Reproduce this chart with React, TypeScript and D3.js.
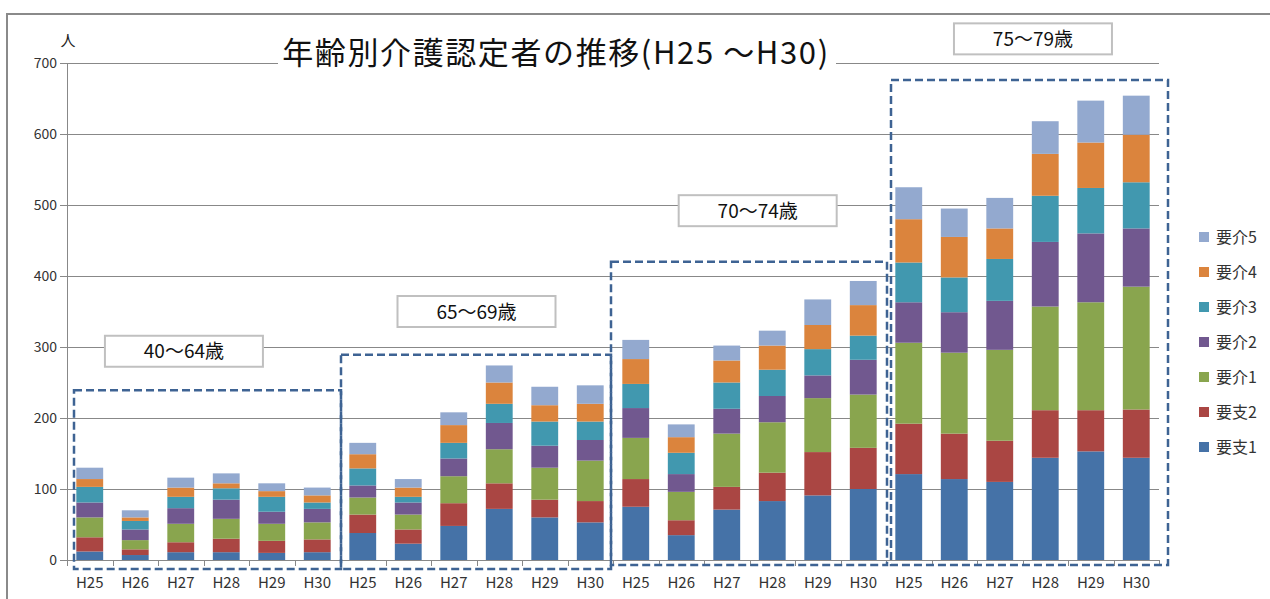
import React from "react";
import * as d3 from "d3";

const years = ["H25", "H26", "H27", "H28", "H29", "H30"];
const ageGroups = ["40～64歳", "65～69歳", "70～74歳", "75～79歳"];
const seriesNames = ["要支1", "要支2", "要介1", "要介2", "要介3", "要介4", "要介5"];
const yTicks = [0, 100, 200, 300, 400, 500, 600, 700];

// values per series, 24 bars (4 age groups x 6 years)
const youshi1 = [12, 7, 11, 11, 10, 11, 38, 23, 48, 72, 60, 53, 75, 35, 71, 83, 91, 100, 121, 114, 110, 144, 153, 144];
const youshi2 = [20, 8, 14, 19, 17, 18, 26, 20, 32, 36, 25, 30, 39, 21, 32, 40, 61, 58, 71, 64, 58, 67, 58, 68];
const youkai1 = [28, 13, 26, 28, 24, 24, 24, 21, 38, 48, 45, 57, 58, 40, 75, 71, 76, 75, 114, 114, 128, 146, 152, 173];
const youkai2 = [21, 15, 22, 27, 17, 19, 17, 17, 25, 37, 31, 29, 42, 25, 35, 37, 32, 49, 57, 57, 69, 91, 97, 82];
const youkai3 = [22, 12, 16, 16, 21, 9, 24, 8, 22, 27, 34, 26, 34, 30, 37, 37, 37, 34, 56, 49, 59, 65, 64, 65];
const youkai4 = [11, 5, 13, 7, 8, 10, 20, 13, 25, 30, 23, 25, 35, 22, 31, 34, 34, 43, 61, 57, 43, 59, 64, 67];
const youkai5 = [16, 10, 14, 14, 11, 11, 16, 12, 18, 24, 26, 26, 27, 18, 21, 21, 36, 34, 45, 40, 43, 46, 59, 55];

const seriesValues = [youshi1, youshi2, youkai1, youkai2, youkai3, youkai4, youkai5];
const colors = ["#4572A7", "#AA4643", "#89A54E", "#71588F", "#4198AF", "#DB843D", "#93A9CF"];

// annotation layout (value level of dashed frame top, label box center in band units / value)
const frameTopValue = [239, 289, 420, 676];
const frameInsetL = [7, 1, -2, 5];
const frameInsetR = [1, -2, 1, 9];
const labelCenterBand = [2.57, 9.0, 15.18, 21.23];
const labelCenterValue = [294, 350, 492, 734];

const FONT = "'Noto Sans CJK JP', 'Noto Sans', sans-serif";

export default function App() {
  const W = 1270, H = 599;
  const left = 67, right = 1159, top = 63, bottom = 560;

  const keys = ageGroups.flatMap((g, gi) => years.map((y, yi) => `${gi}-${yi}`));
  const x = d3.scaleBand<string>().domain(keys).range([left, right]).paddingInner(0.41).paddingOuter(0.205);
  const y = d3.scaleLinear().domain([0, 700]).range([bottom, top]);
  const step = x.step();

  const rows = keys.map((k, i) => {
    const r: any = { key: k };
    seriesNames.forEach((s, si) => (r[s] = seriesValues[si][i]));
    return r;
  });
  const stacked = d3.stack<any>().keys(seriesNames)(rows);

  return (
    <svg width={W} height={H} style={{ position: "absolute", left: 0, top: 0, background: "#fff" }} fontFamily={FONT}>
      <rect x={0} y={0} width={W} height={H} fill="#fff" />
      {/* outer frame */}
      <line x1={6} x2={W} y1={14} y2={14} stroke="#8a8a8a" strokeWidth={2} />
      <line x1={7} x2={7} y1={14} y2={H} stroke="#8a8a8a" strokeWidth={2} />

      {/* gridlines */}
      {yTicks.map((t) => (
        <g key={t}>
          <line x1={left - 7} x2={right} y1={Math.round(y(t)) + 0.5} y2={Math.round(y(t)) + 0.5} stroke="#888" strokeWidth={1} />
          <text x={57} y={y(t) + 5} textAnchor="end" fontSize={14} fill="#333">{t}</text>
        </g>
      ))}
      <line x1={left + 0.5} x2={left + 0.5} y1={top} y2={bottom} stroke="#888" />
      <text x={68} y={46} textAnchor="middle" fontSize={15} fill="#222">人</text>

      {/* x ticks */}
      {d3.range(keys.length + 1).map((i) => (
        <line key={i} x1={Math.round(left + i * step) + 0.5} x2={Math.round(left + i * step) + 0.5} y1={bottom} y2={bottom + 6} stroke="#888" />
      ))}
      {keys.map((k, i) => (
        <text key={k} x={(x(k) as number) + x.bandwidth() / 2} y={588} textAnchor="middle" fontSize={15} fill="#333">
          {years[i % 6]}
        </text>
      ))}

      {/* bars */}
      {stacked.map((layer, si) => (
        <g key={layer.key} fill={colors[si]}>
          {layer.map((d, i) => (
            <rect key={i} x={x(keys[i])} width={x.bandwidth()} y={y(d[1])} height={y(d[0]) - y(d[1])} />
          ))}
        </g>
      ))}

      {/* title */}
      <rect x={278} y={38} width={558} height={32} fill="#fff" />
      <text x={556} y={64} textAnchor="middle" fontSize={31} letterSpacing={1.6} fill="#111">
        年齢別介護認定者の推移(H25 ～H30)
      </text>

      {/* group frames and labels */}
      {ageGroups.map((g, gi) => {
        const x0 = left + gi * 6 * step + frameInsetL[gi];
        const x1 = left + (gi + 1) * 6 * step + frameInsetR[gi];
        const yt = y(frameTopValue[gi]);
        const yb = bottom + (gi < 2 ? 9 : 5);
        const cx = left + labelCenterBand[gi] * step;
        const cy = y(labelCenterValue[gi]);
        return (
          <g key={g}>
            <rect x={x0} y={yt} width={x1 - x0} height={yb - yt} fill="none" stroke="#3E6393" strokeWidth={2.5} strokeDasharray="8 4" />
            <rect x={cx - 79} y={cy - 15.5} width={158} height={31} fill="#fff" stroke="#c0c0c0" strokeWidth={2} />
            <text x={cx} y={cy + 7} textAnchor="middle" fontSize={19} fill="#111">{g}</text>
          </g>
        );
      })}

      {/* legend */}
      {seriesNames.slice().reverse().map((s, i) => {
        const si = seriesNames.length - 1 - i;
        const ly = 237 + i * 35;
        return (
          <g key={s}>
            <rect x={1199} y={ly - 5} width={10} height={10} fill={colors[si]} />
            <text x={1216} y={ly + 6} fontSize={16} fill="#333">{s}</text>
          </g>
        );
      })}
    </svg>
  );
}
